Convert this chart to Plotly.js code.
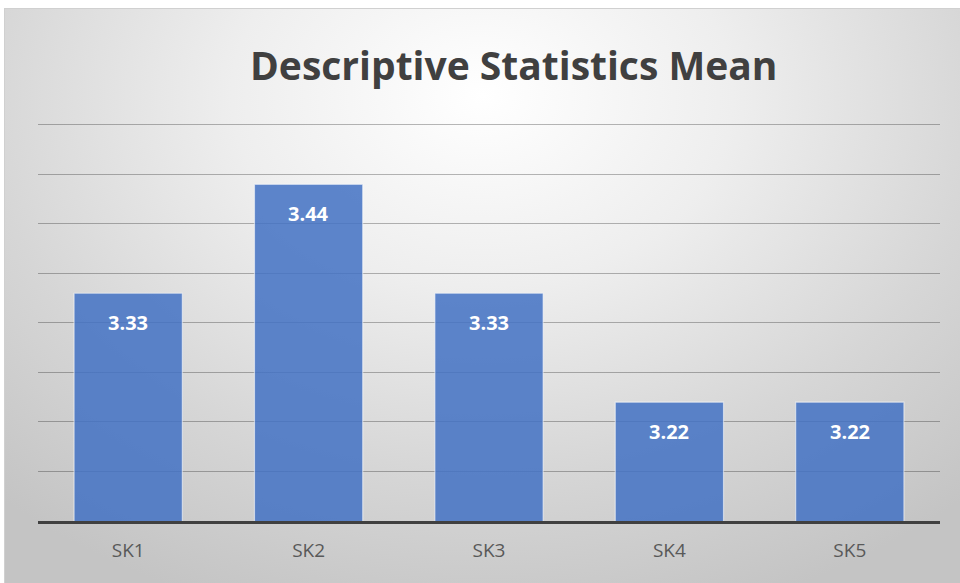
<!DOCTYPE html>
<html>
<head>
<meta charset="utf-8">
<script src="https://cdn.plot.ly/plotly-3.0.1.min.js"></script>
<style>
  html, body { margin: 0; padding: 0; background: #ffffff; }
  #wrap { position: relative; width: 960px; height: 583px; overflow: hidden; background: #ffffff; }
  #bg { position: absolute; left: 4px; top: 8px; right: 0; bottom: 0;
        background: radial-gradient(ellipse 75% 95% at 50% 15%, #ffffff 0%, #eeeeee 35%, #d6d6d6 70%, #c4c4c4 100%);
        border-top: 1px solid #d0d0d0; border-left: 1px solid #d0d0d0; }
  #chart { position: absolute; left: 0; top: 0; width: 960px; height: 583px; }
</style>
</head>
<body>
<div id="wrap">
  <div id="bg"></div>
  <div id="chart"></div>
</div>
<script>
const categories = ["SK1", "SK2", "SK3", "SK4", "SK5"];
const means = [3.33, 3.44, 3.33, 3.22, 3.22];
const meanLabels = ["3.33", "3.44", "3.33", "3.22", "3.22"];
const gridValues = [3.10, 3.15, 3.20, 3.25, 3.30, 3.35, 3.40, 3.45, 3.50];
const chartTitle = "Descriptive Statistics Mean";

const trace = {
  type: "bar",
  x: categories,
  y: means,
  marker: {
    color: "rgba(68,114,196,0.86)",
    line: { color: "rgba(255,255,255,0.55)", width: 1.2 }
  },
  hoverinfo: "skip"
};

const annotations = categories.map((c, i) => ({
  x: c, y: means[i], xref: "x", yref: "y",
  text: "<b>" + meanLabels[i] + "</b>",
  showarrow: false, yanchor: "middle", yshift: -29,
  font: { family: "Open Sans, Noto Sans, sans-serif", size: 20, color: "#ffffff" }
}));

annotations.push({
  xref: "paper", yref: "paper", x: 0.527, y: 1, yshift: 56,
  xanchor: "center", yanchor: "middle", showarrow: false,
  text: "<b>" + chartTitle + "</b>",
  font: { family: "Open Sans, Noto Sans, sans-serif", size: 39, color: "#404040" }
});

const layout = {
  width: 960, height: 583,
  margin: { l: 38, r: 20, t: 120, b: 62 },
  paper_bgcolor: "rgba(0,0,0,0)",
  plot_bgcolor: "rgba(0,0,0,0)",
  bargap: 0.4,
  showlegend: false,
  xaxis: {
    type: "category",
    showline: true, linecolor: "#404040", linewidth: 3,
    showgrid: false, ticks: "",
    tickfont: { family: "Open Sans, Noto Sans, sans-serif", size: 19, color: "#595959" },
    ticklabelstandoff: 10
  },
  yaxis: {
    range: [3.1, 3.505], tickmode: "array", tickvals: gridValues,
    showticklabels: false, ticks: "",
    showgrid: true, gridcolor: "rgba(0,0,0,0.28)", gridwidth: 1,
    zeroline: false, showline: false
  },
  annotations: annotations
};

Plotly.newPlot("chart", [trace], layout, { displayModeBar: false, staticPlot: true });
</script>
</body>
</html>
